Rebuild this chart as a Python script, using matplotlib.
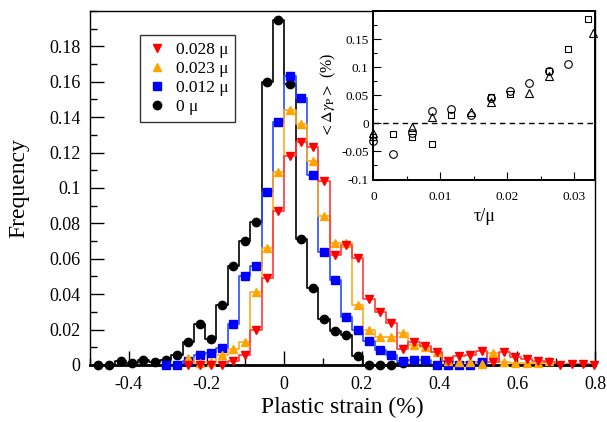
import matplotlib
matplotlib.use("Agg")
import matplotlib.pyplot as plt
from matplotlib.lines import Line2D
from matplotlib.ticker import MultipleLocator, FuncFormatter

plt.rcParams["font.family"] = ["Liberation Serif", "DejaVu Serif"]
plt.rcParams["mathtext.fontset"] = "stix"
plt.rcParams["axes.unicode_minus"] = False

# bin centres of the plastic strain histogram (%)
STRAIN = [
    -0.479, -0.450, -0.421, -0.392, -0.363, -0.334, -0.305, -0.276, -0.247,
    -0.218, -0.189, -0.160, -0.131, -0.102, -0.073, -0.044, -0.015, 0.015,
    0.044, 0.073, 0.102, 0.131, 0.160, 0.189, 0.218, 0.247, 0.276, 0.305,
    0.334, 0.363, 0.392, 0.421, 0.450, 0.479, 0.508, 0.537, 0.566, 0.595,
    0.624, 0.653, 0.682, 0.711, 0.740, 0.769, 0.798,
]

# 0 mu: bins 0..27
FREQ_0 = [
    0.0, 0.0, 0.0025, 0.001, 0.003, 0.0015, 0.003, 0.0055, 0.013, 0.023,
    0.0145, 0.034, 0.056, 0.070, 0.081, 0.160, 0.195, 0.159, 0.071, 0.0435,
    0.026, 0.019, 0.017, 0.005, 0.0, 0.0, 0.0, 0.0012,
]
START_0 = 0

# 0.012 mu: bins 6..34
FREQ_012 = [
    0.0, 0.0, 0.0025, 0.0055, 0.007, 0.0095, 0.023, 0.050, 0.0557, 0.098,
    0.137, 0.163, 0.151, 0.1075, 0.064, 0.048, 0.027, 0.0197, 0.0137, 0.0085,
    0.0056, 0.0023, 0.0028, 0.0028, 0.0, 0.0, 0.0, 0.0, 0.0018,
]
START_012 = 6

# 0.023 mu: bins 8..40
FREQ_023 = [
    0.004, 0.0013, 0.0015, 0.0055, 0.009, 0.013, 0.041, 0.066, 0.109, 0.144,
    0.136, 0.115, 0.084, 0.069, 0.069, 0.034, 0.020, 0.0158, 0.0158, 0.018,
    0.0115, 0.010, 0.0075, 0.0025, 0.0015, 0.0015, 0.0006, 0.007, 0.0015,
    0.001, 0.001, 0.0012, 0.0025,
]
START_023 = 8

# 0.028 mu: bins 8..44
FREQ_028 = [
    0.0, 0.0, 0.0, 0.0, 0.002, 0.0055, 0.020, 0.049, 0.087, 0.118,
    0.126, 0.123, 0.104, 0.062, 0.068, 0.0605, 0.037, 0.030, 0.0238, 0.009,
    0.013, 0.011, 0.0075, 0.002, 0.005, 0.0058, 0.008, 0.0015, 0.0075,
    0.0045, 0.0033, 0.0025, 0.0015, 0.0, 0.0003, 0.0007, 0.0,
]
START_028 = 8

# inset: mean plastic strain change vs tau/mu
SQ_TAU = [0.0, 0.0029, 0.0058, 0.0087, 0.0116, 0.0175, 0.0204, 0.0262, 0.0291, 0.0321]
SQ_DG = [-0.024, -0.019, -0.024, -0.036, 0.015, 0.047, 0.052, 0.094, 0.132, 0.185]
CI_TAU = [0.0, 0.0029, 0.0058, 0.0087, 0.0116, 0.0145, 0.0175, 0.0204, 0.0233, 0.0262, 0.0291]
CI_DG = [-0.032, -0.054, -0.018, 0.022, 0.025, 0.015, 0.046, 0.057, 0.072, 0.094, 0.106]
TR_TAU = [0.0, 0.0058, 0.0087, 0.0145, 0.0175, 0.0233, 0.0262, 0.0328]
TR_DG = [-0.018, -0.006, 0.011, 0.021, 0.038, 0.054, 0.084, 0.161]


def fmt(v, pos):
    return f"{v:g}"


fig = plt.figure(figsize=(6.07, 4.22), dpi=100)
ax = fig.add_axes([0.1483, 0.1351, 0.8320, 0.8389])

series = [
    (START_0, FREQ_0, "black", "black", "o", 6.0),
    (START_012, FREQ_012, "#0000ff", "#2a4dff", "s", 5.5),
    (START_023, FREQ_023, "#ffa500", "#ffaa22", "^", 6.0),
    (START_028, FREQ_028, "#ff0000", "#ff3a3a", "v", 6.0),
]
for start, vals, mcol, lcol, mk, ms in series:
    xs = STRAIN[start:start + len(vals)]
    ax.plot(xs, vals, drawstyle="steps-mid", color=lcol, lw=1.2, zorder=2)
    ax.plot(xs, vals, ls="none", marker=mk, ms=ms, color=mcol,
            mec=mcol, clip_on=False, zorder=3)

ax.set_xlim(-0.5, 0.8)
ax.set_ylim(0, 0.2)
ax.xaxis.set_major_locator(MultipleLocator(0.2))
ax.xaxis.set_minor_locator(MultipleLocator(0.1))
ax.yaxis.set_minor_locator(MultipleLocator(0.01))
ax.set_yticks([0.0, 0.02, 0.04, 0.06, 0.08, 0.1, 0.12, 0.14, 0.16, 0.18])
ax.xaxis.set_major_formatter(FuncFormatter(fmt))
ax.yaxis.set_major_formatter(FuncFormatter(fmt))
ax.tick_params(which="both", direction="in", top=False, right=False, labelsize=13)
ax.tick_params(which="major", length=10, width=1.0)
ax.tick_params(which="minor", length=5, width=1.0)
ax.tick_params(axis="x", pad=8)
ax.tick_params(axis="y", pad=7)
for s in ax.spines.values():
    s.set_linewidth(1.0)
ax.spines["bottom"].set_linewidth(2.0)
ax.set_xlabel("Plastic strain (%)", fontsize=17, labelpad=3)
ax.set_ylabel("Frequency", fontsize=17, labelpad=14)

handles = [
    Line2D([0], [0], ls="none", marker="v", color="#ff0000", ms=6),
    Line2D([0], [0], ls="none", marker="^", color="#ffa500", ms=6),
    Line2D([0], [0], ls="none", marker="s", color="#0000ff", ms=5.5),
    Line2D([0], [0], ls="none", marker="o", color="black", ms=6),
]
labels = ["0.028 μ", "0.023 μ", "0.012 μ", "0 μ"]
leg = ax.legend(handles, labels, loc="upper left", bbox_to_anchor=(0.099, 0.932),
                borderaxespad=0, fontsize=12.5, frameon=True, fancybox=False,
                edgecolor="black", labelspacing=0.17, handlelength=1.2,
                handletextpad=0.45, borderpad=0.4)
leg.get_frame().set_linewidth(1.0)

# inset
ins = fig.add_axes([0.6153, 0.5746, 0.3649, 0.3993])
ins.plot(SQ_TAU, SQ_DG, ls="none", marker="s", ms=5, mfc="none", mec="black",
         mew=0.8, clip_on=False)
ins.plot(CI_TAU, CI_DG, ls="none", marker="o", ms=5.5, mfc="none", mec="black",
         mew=0.8, clip_on=False)
ins.plot(TR_TAU, TR_DG, ls="none", marker="^", ms=5.5, mfc="none", mec="black",
         mew=0.8, clip_on=False)
ins.axhline(0.0, color="black", ls=(0, (4, 3)), lw=1.0)
ins.set_xlim(0, 0.0331)
ins.set_ylim(-0.1, 0.2)
ins.xaxis.set_major_locator(MultipleLocator(0.01))
ins.xaxis.set_minor_locator(MultipleLocator(0.005))
ins.set_yticks([-0.1, -0.05, 0.0, 0.05, 0.1, 0.15])
ins.yaxis.set_minor_locator(MultipleLocator(0.025))
ins.xaxis.set_major_formatter(FuncFormatter(fmt))
ins.yaxis.set_major_formatter(FuncFormatter(fmt))
ins.tick_params(which="both", direction="in", top=False, right=False, labelsize=9.5)
ins.tick_params(which="major", length=6, width=0.8)
ins.tick_params(which="minor", length=3, width=0.8)
ins.tick_params(axis="x", pad=8)
for s in ins.spines.values():
    s.set_linewidth(1.4)
ins.set_xlabel("τ/μ", fontsize=13, labelpad=4)
ins.set_ylabel(r"$<\Delta\gamma_{\mathrm{P}}>$ (%)", fontsize=11.5, labelpad=2)

fig.savefig("out.png", dpi=100)
